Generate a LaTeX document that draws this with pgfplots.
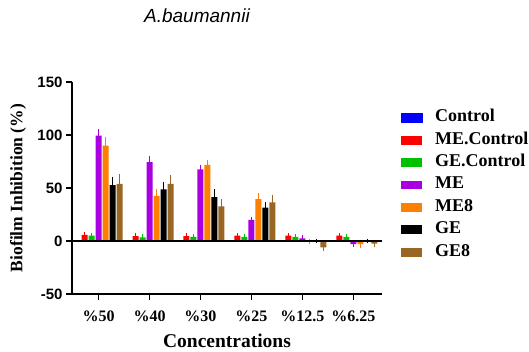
\documentclass[border=0pt]{standalone}
\usepackage{fontspec}
\setmainfont{Liberation Serif}
\newfontfamily\arial{Liberation Sans}
\usepackage{pgfplots}
\pgfplotsset{compat=1.18}
\definecolor{cCtrl}{RGB}{0,0,255}
\definecolor{cME}{RGB}{255,0,0}
\definecolor{cGE}{RGB}{0,192,0}
\definecolor{cMEx}{RGB}{168,0,224}
\definecolor{cMEe}{RGB}{255,128,0}
\definecolor{cGEx}{RGB}{0,0,0}
\definecolor{cGEe}{RGB}{153,102,36}
\begin{document}
\begin{tikzpicture}[x=1pt,y=1pt]
\path[use as bounding box] (0,0) rectangle (529,351);
\begin{axis}[
  at={(72pt,57pt)}, anchor=south west,
  scale only axis, width=310pt, height=212pt,
  xmin=-0.52, xmax=5.56, ymin=-50, ymax=150,
  axis x line*=bottom, axis y line*=left,
  axis line style={line width=1.6pt},
  every tick/.style={black, line width=1.6pt},
  tick align=outside, major tick length=6pt,
  xtick={0,1,2,3,4,5},
  xticklabels={\%50,\%40,\%30,\%25,\%12.5,\%6.25},
  ytick={-50,0,50,100,150},
  yticklabels={-50,0,50,100,150},
  xticklabel style={font=\bfseries\fontsize{16}{16}\selectfont, anchor=base, yshift=-21pt},
  yticklabel style={font=\arial\bfseries\fontsize{15}{15}\selectfont},
  ylabel={Biofilm Inhibition (\%)},
  ylabel style={font=\bfseries\fontsize{17.5}{17.5}\selectfont, at={(axis description cs:-0.174,0.5)}, anchor=center, rotate=0},
  xlabel={Concentrations},
  xlabel style={font=\bfseries\fontsize{19.5}{19.5}\selectfont, at={(axis description cs:0.5,-0.222)}, anchor=center},
  title={A.baumannii},
  title style={font=\arial\itshape\fontsize{19}{19}\selectfont, at={(axis description cs:0.403,1.285)}, anchor=center},
  ybar=1pt, bar width=6pt,
  legend image code/.code={\fill[#1] (0pt,-4.35pt) rectangle (21pt,4.35pt);},
  legend style={at={(axis description cs:1.061,0.869)}, anchor=north west, draw=none, fill=none,
    inner sep=0pt, outer sep=0pt, row sep=6.4pt, column sep=12.7pt,
    nodes={inner sep=0pt, text height=12pt, text depth=4pt, anchor=west},
    font=\bfseries\fontsize{18}{18}\selectfont},
  legend cell align=left,
  error bars/error bar style={line width=0.9pt},
  error bars/error mark options={rotate=90, mark size=2.2pt, line width=0.9pt},
]
\addplot[fill=cCtrl, draw=cCtrl, line width=0.5pt] coordinates {(0,0) (1,0) (2,0) (3,0) (4,0) (5,0)};
\addplot[fill=cME, draw=none, error bars/.cd, y dir=both, y explicit, error bar style={cME}, error mark options={cME}] coordinates {
 (0,5.7) +- (0,1.2) (1,4.7) +- (0,1.2) (2,4.7) +- (0,1.0) (3,5) +- (0,1.0) (4,5) +- (0,0.8) (5,5) +- (0,0.8)};
\addplot[fill=cGE, draw=none, error bars/.cd, y dir=both, y explicit, error bar style={cGE}, error mark options={cGE}] coordinates {
 (0,5) +- (0,0.8) (1,3.5) +- (0,0.8) (2,4) +- (0,0.8) (3,4) +- (0,0.8) (4,4) +- (0,0.8) (5,4) +- (0,0.8)};
\addplot[fill=cMEx, draw=none, error bars/.cd, y dir=both, y explicit, error bar style={cMEx}, error mark options={cMEx}] coordinates {
 (0,99.5) +- (0,4) (1,74.5) +- (0,3.5) (2,67.6) +- (0,2) (3,20) +- (0,1) (4,2.5) +- (0,1) (5,-3) +- (0,1)};
\addplot[fill=cMEe, draw=none, error bars/.cd, y dir=both, y explicit, error bar style={cMEe}, error mark options={cMEe}] coordinates {
 (0,90) +- (0,6) (1,42.5) +- (0,5) (2,71.7) +- (0,3) (3,39.6) +- (0,4) (4,-0.5) +- (0,0.5) (5,-3) +- (0,1.5)};
\addplot[fill=cGEx, draw=none, error bars/.cd, y dir=both, y explicit, error bar style={cGEx}, error mark options={cGEx}] coordinates {
 (0,52.7) +- (0,6) (1,48.7) +- (0,5) (2,41.5) +- (0,5.6) (3,31.4) +- (0,3.5) (4,0) +- (0,0.3) (5,0) +- (0,0.3)};
\addplot[fill=cGEe, draw=none, error bars/.cd, y dir=both, y explicit, error bar style={cGEe}, error mark options={cGEe}] coordinates {
 (0,54) +- (0,7) (1,54) +- (0,6) (2,32.7) +- (0,4.7) (3,36.5) +- (0,5.3) (4,-6) +- (0,1.5) (5,-2.5) +- (0,1.5)};
\legend{Control, ME.Control, GE.Control, ME, ME8, GE, GE8}
\draw[black, line width=1.2pt] ({rel axis cs:0,0}|-{axis cs:0,0}) -- ({rel axis cs:1,0}|-{axis cs:0,0});
\end{axis}
\end{tikzpicture}
\end{document}
